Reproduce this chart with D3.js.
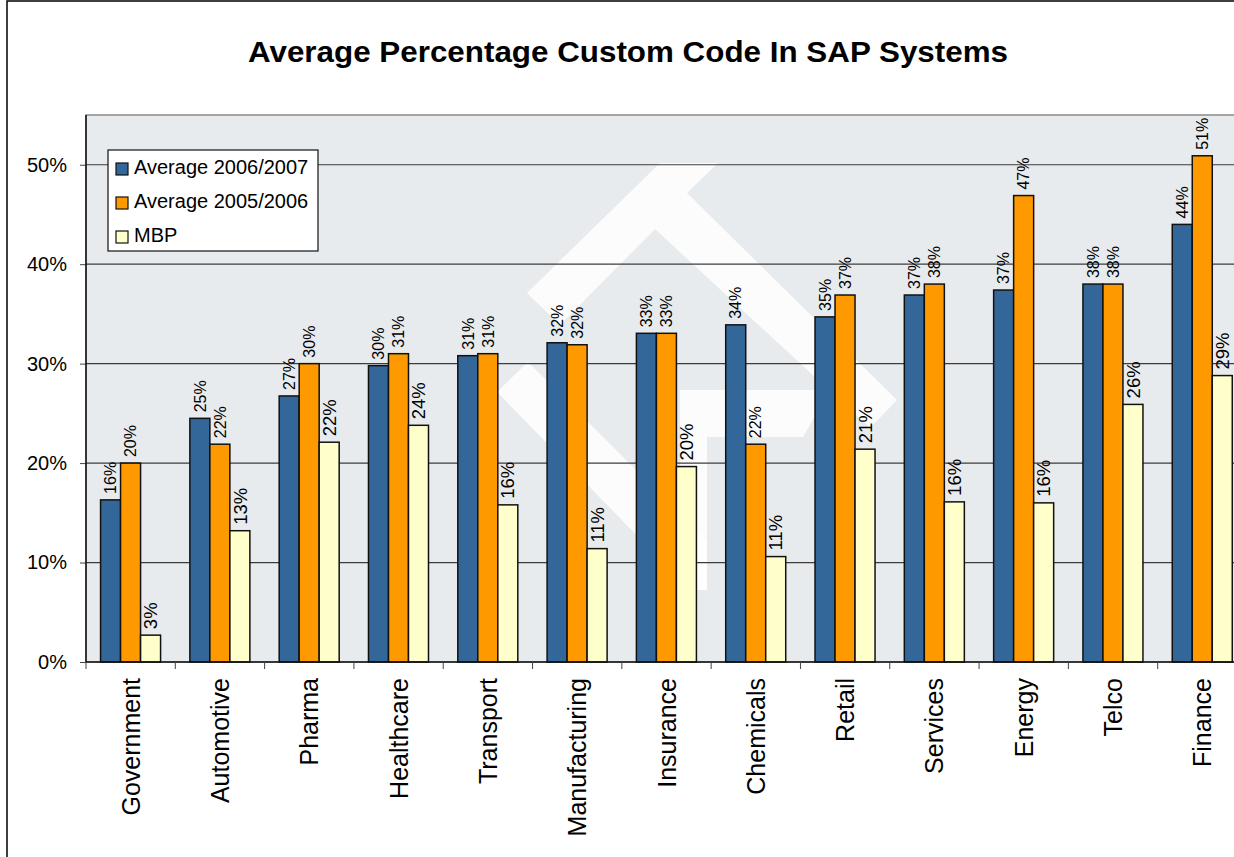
<!DOCTYPE html>
<html>
<head>
<meta charset="utf-8">
<script src="https://cdn.jsdelivr.net/npm/d3@7"></script>
<style>
  body { margin: 0; background: #fff; }
  svg { display: block; font-family: "Liberation Sans", Arial, sans-serif; }
</style>
</head>
<body>
<svg id="chart" width="1234" height="857"></svg>
<script>
// data
const categories = ['Government', 'Automotive', 'Pharma', 'Healthcare', 'Transport', 'Manufacturing',
  'Insurance', 'Chemicals', 'Retail', 'Services', 'Energy', 'Telco', 'Finance']
const seriesNames = ['Average 2006/2007', 'Average 2005/2006', 'MBP']
const avg0607 = [16.3, 24.5, 26.75, 29.8, 30.8, 32.1, 33.05, 33.9, 34.7, 36.9, 37.4, 38.0, 44.0]
const avg0506 = [20.0, 21.9, 30.0, 31.0, 31.0, 31.9, 33.05, 21.9, 36.9, 38.0, 46.9, 38.0, 50.9]
const mbp = [2.7, 13.2, 22.1, 23.8, 15.8, 11.4, 19.65, 10.6, 21.4, 16.1, 16.0, 25.9, 28.8]
const yTicks = [0, 10, 20, 30, 40, 50]
const colors = ['#336699', '#ff9900', '#ffffcc']

const svg = d3.select('#chart')
const plot = { left: 86, right: 1247, top: 115, bottom: 662 }

// outer frame (cut off on the right like the original)
svg.append('rect')
  .attr('x', 7).attr('y', 1).attr('width', 1400).attr('height', 1000)
  .attr('fill', 'none').attr('stroke', '#000').attr('stroke-width', 1.5)

svg.append('text')
  .attr('x', 628).attr('y', 62)
  .attr('text-anchor', 'middle')
  .attr('font-size', 29).attr('font-weight', 'bold')
  .attr('textLength', 760).attr('lengthAdjust', 'spacingAndGlyphs')
  .text('Average Percentage Custom Code In SAP Systems')

// scales
const x = d3.scaleBand().domain(categories).range([plot.left, plot.right])
const bw = x.bandwidth()
const x1 = d3.scaleBand().domain(seriesNames).range([bw * 0.163, bw * 0.835])
const y = d3.scaleLinear().domain([0, 55]).range([plot.bottom, plot.top])

// plot background
svg.append('rect')
  .attr('x', plot.left).attr('y', plot.top)
  .attr('width', plot.right - plot.left).attr('height', plot.bottom - plot.top)
  .attr('fill', '#e8ebee').attr('stroke', '#8c8c8c').attr('stroke-width', 1.5)

// watermark logo, rough shape
const mark = [
  [[527, 293], [660, 163], [718, 163], [687, 193], [897, 400], [870, 428], [655, 229], [560, 325]],
  [[497, 392], [528, 362], [707, 541], [707, 590], [690, 590]],
  [[680, 390], [830, 390], [803, 437], [707, 437], [707, 590], [680, 590]]
]
svg.append('g').selectAll('path')
  .data(mark)
  .join('path')
  .attr('d', d => 'M' + d.join('L') + 'Z')
  .attr('fill', '#fff').attr('opacity', 0.85)

// gridlines + y axis
const yAxis = svg.append('g')
  .attr('transform', `translate(${plot.left},0)`)
  .call(d3.axisLeft(y).tickValues(yTicks).tickSize(6).tickFormat(d => d + '%'))
yAxis.select('.domain').remove()
yAxis.selectAll('.tick line').attr('stroke', '#444')
yAxis.selectAll('.tick text')
  .attr('x', -19).attr('font-size', 20).attr('fill', '#000')
  .attr('font-family', '"Liberation Sans", Arial, sans-serif')

svg.append('g').selectAll('line')
  .data(yTicks.filter(d => d > 0))
  .join('line')
  .attr('x1', plot.left).attr('x2', plot.right)
  .attr('y1', d => y(d)).attr('y2', d => y(d))
  .attr('stroke', '#3c3c3c').attr('stroke-width', 1.2)

// bars
const rows = categories.map((c, i) => ({ cat: c, vals: [avg0607[i], avg0506[i], mbp[i]] }))
const groups = svg.append('g').selectAll('g')
  .data(rows)
  .join('g')
  .attr('transform', d => `translate(${x(d.cat)},0)`)

groups.selectAll('rect')
  .data(d => d.vals.map((v, j) => ({ s: seriesNames[j], v: v, j: j })))
  .join('rect')
  .attr('x', d => x1(d.s))
  .attr('width', x1.bandwidth())
  .attr('y', d => y(d.v))
  .attr('height', d => y(0) - y(d.v))
  .attr('fill', d => colors[d.j])
  .attr('stroke', '#111').attr('stroke-width', 1.5)

// value labels, rotated
groups.selectAll('text')
  .data(d => d.vals.map((v, j) => ({ s: seriesNames[j], v: v, j: j })))
  .join('text')
  .attr('transform', d => `translate(${x1(d.s) + x1.bandwidth() / 2},${y(d.v) - 6}) rotate(-90)`)
  .attr('dy', '0.36em')
  .attr('font-size', d => d.j == 2 ? 18.5 : 16)
  .text(d => Math.round(d.v) + '%')

// x axis
svg.append('line')
  .attr('x1', plot.left).attr('x2', plot.right)
  .attr('y1', plot.bottom).attr('y2', plot.bottom)
  .attr('stroke', '#111').attr('stroke-width', 1.5)
svg.append('line')
  .attr('x1', plot.left).attr('x2', plot.left)
  .attr('y1', plot.top).attr('y2', plot.bottom)
  .attr('stroke', '#111').attr('stroke-width', 1.5)

svg.append('g').selectAll('line')
  .data(categories)
  .join('line')
  .attr('x1', d => x(d)).attr('x2', d => x(d))
  .attr('y1', plot.bottom).attr('y2', plot.bottom + 7)
  .attr('stroke', '#444')

svg.append('g').selectAll('text')
  .data(categories)
  .join('text')
  .attr('transform', d => `translate(${x(d) + bw / 2},${plot.bottom + 16}) rotate(-90)`)
  .attr('text-anchor', 'end')
  .attr('dy', '0.36em')
  .attr('font-size', 25)
  .text(d => d)

// legend
const legend = svg.append('g').attr('transform', 'translate(108,150)')
legend.append('rect')
  .attr('width', 210).attr('height', 101)
  .attr('fill', '#fff').attr('stroke', '#111').attr('stroke-width', 1.2)
const item = legend.selectAll('g')
  .data(seriesNames)
  .join('g')
  .attr('transform', (d, i) => `translate(8,${13 + i * 34})`)
item.append('rect')
  .attr('width', 12).attr('height', 12)
  .attr('fill', (d, i) => colors[i]).attr('stroke', '#111').attr('stroke-width', 1.2)
item.append('text')
  .attr('x', 18).attr('y', 11)
  .attr('font-size', 20)
  .text(d => d)
</script>
</body>
</html>
